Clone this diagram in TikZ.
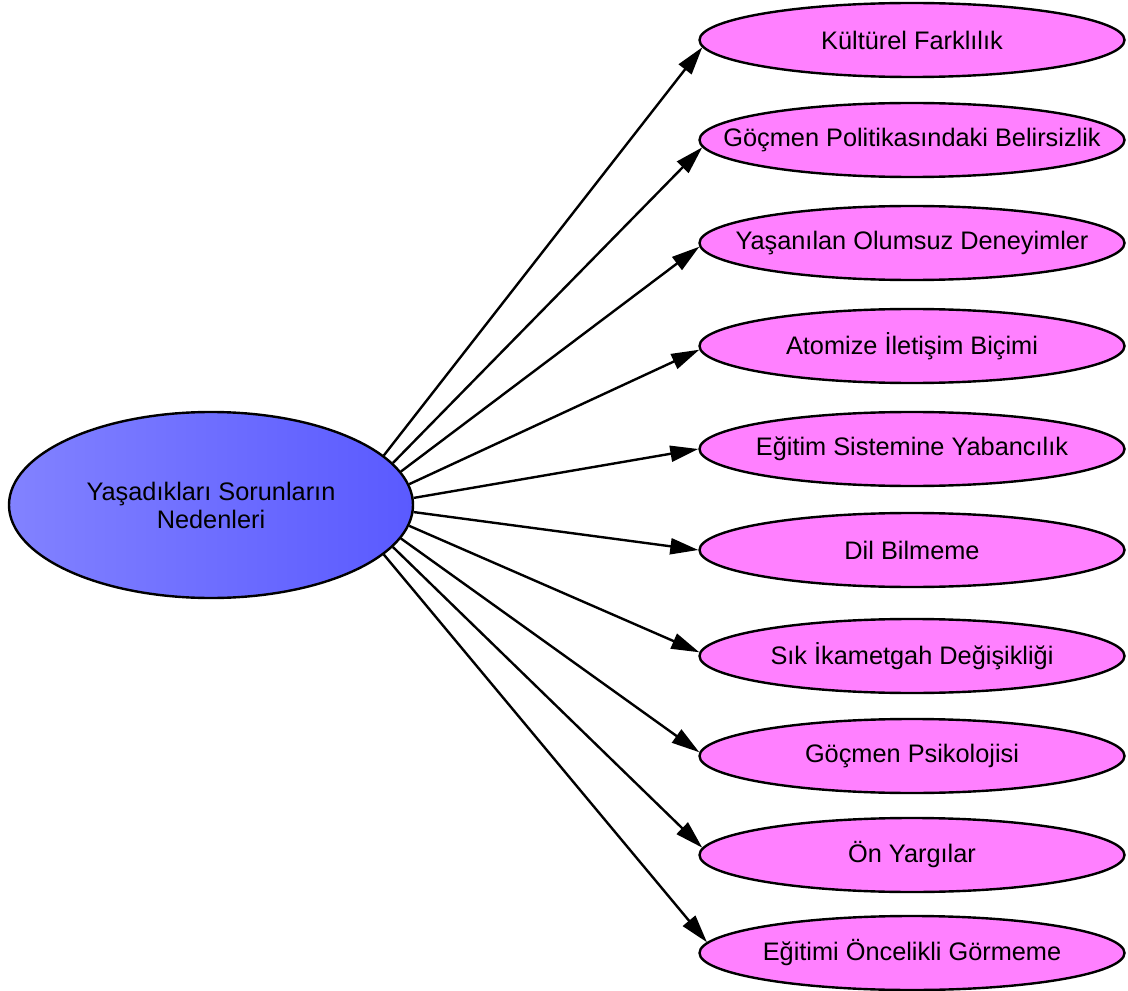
\documentclass[tikz,border=0pt]{standalone}
\usepackage{fontspec}
\setmainfont{Liberation Sans}
\usepackage{tikz}
\usetikzlibrary{arrows.meta,shapes.geometric}
\definecolor{causefill}{HTML}{FF80FF}
\definecolor{rootleft}{HTML}{8282FF}
\definecolor{rootright}{HTML}{5A5AFF}

\begin{document}
\begin{tikzpicture}[x=0.75pt,y=-0.75pt,
    root/.style={ellipse, draw, line width=1.8pt, left color=rootleft, right color=rootright,
      minimum width=303pt, minimum height=139.5pt, inner sep=0pt, align=center,
      font=\fontsize{19}{21}\selectfont},
    cause/.style={ellipse, draw, line width=1.8pt, fill=causefill,
      minimum width=318.75pt, minimum height=55.5pt, inner xsep=-40pt, inner ysep=0pt,
      font=\fontsize{19}{21}\selectfont},
    link/.style={line width=1.8pt, -{Triangle[length=21pt,width=12pt]}}]
    \useasboundingbox (0,0) rectangle (1128,991);
    % Root node
    \node[root] (neden) at (211,505) {Yaşadıkları Sorunların\\Nedenleri};
    % Causes
    \node[cause] (kultur) at (912,40) {Kültürel Farklılık};
    \node[cause] (politika) at (912,140) {Göçmen Politikasındaki Belirsizlik};
    \node[cause] (deneyim) at (912,243) {Yaşanılan Olumsuz Deneyimler};
    \node[cause] (iletisim) at (912,346) {Atomize İletişim Biçimi};
    \node[cause] (egitim) at (912,449) {Eğitim Sistemine Yabancılık};
    \node[cause] (dil) at (912,550) {Dil Bilmeme};
    \node[cause] (ikamet) at (912,656) {Sık İkametgah Değişikliği};
    \node[cause] (psikoloji) at (912,756) {Göçmen Psikolojisi};
    \node[cause] (yargi) at (912,855) {Ön Yargılar};
    \node[cause] (oncelik) at (912,953) {Eğitimi Öncelikli Görmeme};
    % Arrows from the root to each cause
    \draw[link] (neden.16) -- (kultur.182);
    \draw[link] (neden.13) -- (politika.182);
    \draw[link] (neden.10) -- (deneyim.181);
    \draw[link] (neden.6) -- (iletisim.181);
    \draw[link] (neden.2) -- (egitim.180);
    \draw[link] (neden.358) -- (dil.180);
    \draw[link] (neden.354) -- (ikamet.179);
    \draw[link] (neden.350) -- (psikoloji.179);
    \draw[link] (neden.347) -- (yargi.178);
    \draw[link] (neden.344) -- (oncelik.177);
\end{tikzpicture}
\end{document}
